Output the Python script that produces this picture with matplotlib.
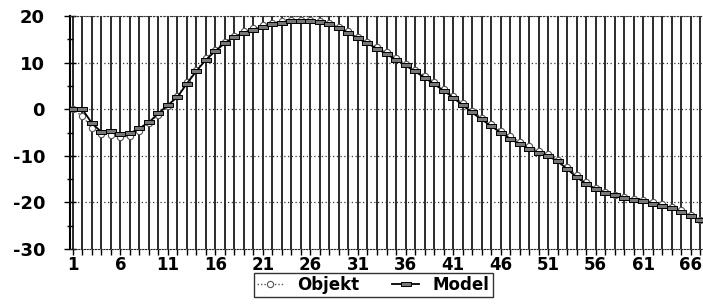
import numpy as np
import matplotlib
matplotlib.use("Agg")
import matplotlib.pyplot as plt

# Data (category 1..67)
categories = list(range(1, 68))
objekt = [0, -1.5, -4.0, -5.3, -5.5, -6.0, -5.8, -4.6, -3.0, -1.2,
          0.6, 2.8, 5.8, 8.4, 10.9, 12.8, 14.5, 15.8, 16.7, 17.4,
          18.0, 18.5, 18.9, 19.1, 19.2, 19.1, 18.9, 18.4, 17.7, 16.7,
          15.6, 14.5, 13.4, 12.2, 11.0, 9.8, 8.5, 7.2, 5.8, 4.4,
          2.9, 1.3, -0.3, -1.8, -3.2, -4.6, -5.8, -7.0, -8.0, -8.9,
          -9.6, -10.8, -12.4, -14.2, -15.7, -17.0, -17.8, -18.4, -18.9, -19.2,
          -19.5, -19.9, -20.4, -21.0, -21.7, -22.7, -23.7]
model = [0, 0, -3.0, -4.9, -4.7, -5.4, -5.2, -4.1, -2.8, -0.9,
         0.9, 2.6, 5.5, 8.2, 10.6, 12.5, 14.2, 15.5, 16.4, 17.1,
         17.7, 18.2, 18.6, 18.9, 19.0, 19.0, 18.8, 18.2, 17.4, 16.4,
         15.2, 14.1, 13.0, 11.8, 10.6, 9.4, 8.1, 6.8, 5.4, 4.0,
         2.5, 0.9, -0.7, -2.2, -3.6, -5.0, -6.3, -7.5, -8.5, -9.3,
         -10.0, -11.2, -12.8, -14.6, -16.0, -17.2, -17.9, -18.5, -19.0, -19.4,
         -19.8, -20.3, -20.8, -21.3, -22.0, -22.9, -23.8]
xtick_labels = [str(v) for v in range(1, 68, 5)]

plt.rcParams['font.family'] = ['DejaVu Sans']
plt.rcParams['font.weight'] = 'bold'

fig = plt.figure(figsize=(7.03, 3.04), dpi=100)
ax = fig.add_axes([70 / 703, 55 / 304, 633 / 703, 233 / 304])

# vertical category lines
for c in categories:
    ax.axvline(c, color='#1a1a1a', lw=1.3, zorder=1)
# horizontal dotted gridlines
for yv in [-20, -10, 0, 10, 20]:
    ax.axhline(yv, color='#333333', lw=0.9, ls=(0, (1, 2)), zorder=1.5)

rect = [(-1, -0.45), (1, -0.45), (1, 0.45), (-1, 0.45), (-1, -0.45)]
ax.plot(categories, objekt, ls=(0, (1, 1.5)), color='#555555', lw=1.0,
        marker='o', ms=4.5, mfc='white', mec='#555555', mew=0.8,
        label='Objekt', zorder=3)
ax.plot(categories, model, ls='-', color='black', lw=1.3,
        marker=rect, ms=7, mfc='#777777', mec='black', mew=0.7,
        label='Model', zorder=4)

ax.set_xlim(0.7, 67.3)
ax.set_ylim(-30, 20)
ax.set_xticks(range(1, 68, 5))
ax.set_xticklabels(xtick_labels, fontsize=12, fontweight='bold')
ax.set_xticks(categories, minor=True)
ax.set_yticks([-30, -20, -10, 0, 10, 20])
ax.set_yticklabels(['-30', '-20', '-10', '0', '10', '20'], fontsize=13,
                   fontweight='bold')
ax.set_yticks(np.arange(-25, 20, 10), minor=True)
ax.tick_params(axis='x', which='both', direction='out', length=4, width=1,
               pad=1)
ax.tick_params(axis='y', which='major', direction='inout', length=8,
               width=1, pad=14)
ax.tick_params(axis='y', which='minor', direction='inout', length=5,
               width=1)

ax.spines['left'].set_linewidth(1.5)
ax.spines['bottom'].set_linestyle((0, (1, 1.5)))
ax.spines['bottom'].set_color('#222222')
ax.spines['top'].set_linestyle((0, (1, 2)))
ax.spines['top'].set_color('#333333')
ax.spines['right'].set_visible(False)

leg = fig.legend(loc='center', bbox_to_anchor=(373 / 703, 19 / 304), ncol=2,
                 fontsize=12, frameon=True, fancybox=False, handlelength=1.6,
                 columnspacing=2.0, borderpad=0.2, handletextpad=0.8)
leg.get_frame().set_edgecolor('black')
leg.get_frame().set_linewidth(1.0)
for t in leg.get_texts():
    t.set_fontweight('bold')

fig.savefig('out.png', dpi=100)
plt.close(fig)
